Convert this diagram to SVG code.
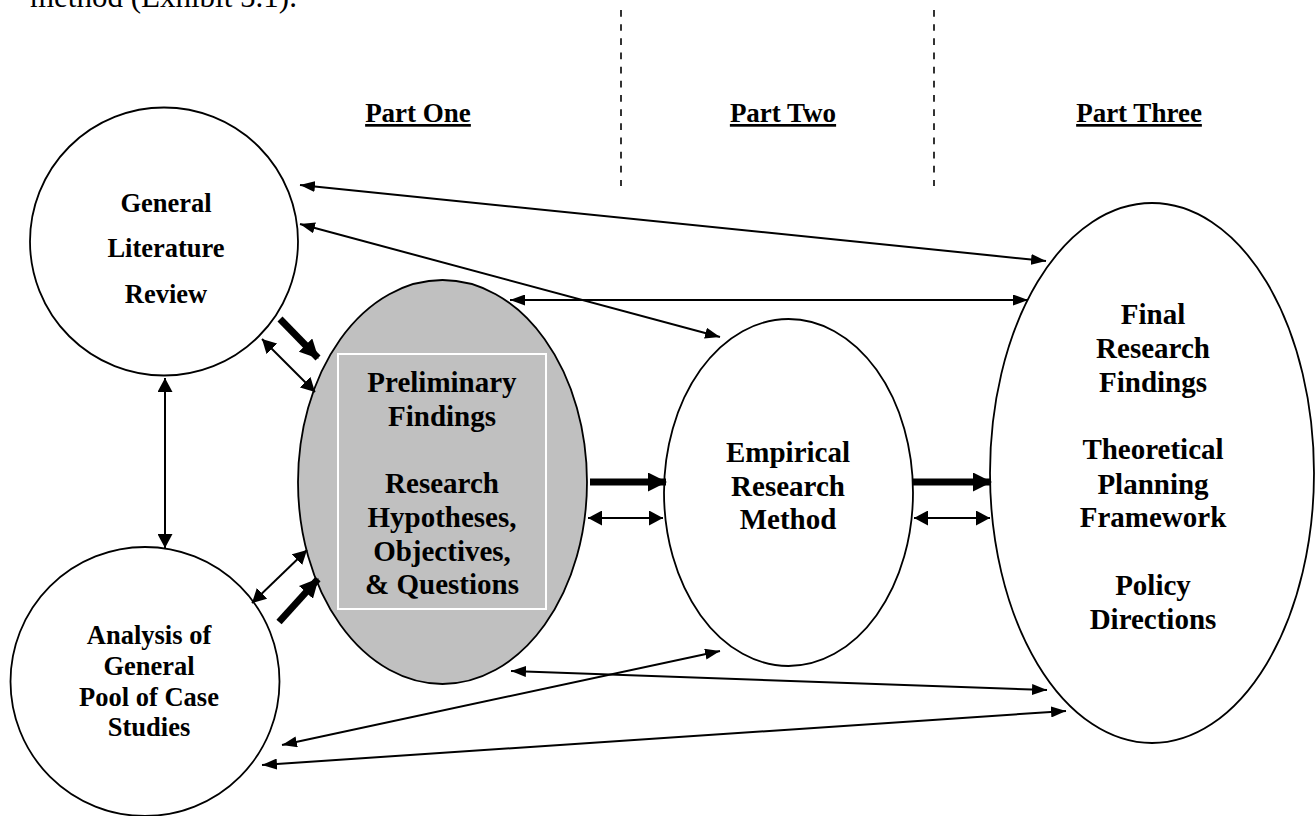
<svg xmlns="http://www.w3.org/2000/svg" width="1315" height="816" viewBox="0 0 1315 816">
  <style>
    .node { fill: #ffffff; stroke: #000000; stroke-width: 1.8; }
    .shaded { fill: #c0c0c0; stroke: #000000; stroke-width: 1.8; }
    .lbl { font-family: "Liberation Serif", "Times New Roman", serif; font-weight: bold; fill: #000000; text-anchor: middle; }
    .body { font-family: "Liberation Serif", "Times New Roman", serif; font-size: 31px; fill: #000000; }
    .part { font-family: "Liberation Serif", "Times New Roman", serif; font-weight: bold; font-size: 27px; fill: #000000; text-anchor: middle; text-decoration: underline; }
    .divider { stroke: #000000; stroke-width: 1.6; stroke-dasharray: 6.7 7.47; fill: none; }
    .thin { stroke: #000000; stroke-width: 2; fill: none; marker-start: url(#headLong); marker-end: url(#headLong); }
    .short { stroke: #000000; stroke-width: 2; fill: none; marker-start: url(#headShort); marker-end: url(#headShort); }
    .thick { stroke: #000000; stroke-width: 7; fill: none; marker-end: url(#headThick); }
  </style>
  <defs>
    <marker id="headLong" markerUnits="userSpaceOnUse" markerWidth="15" markerHeight="11" refX="15" refY="5.5" orient="auto-start-reverse">
      <path d="M0,0 L15,5.5 L0,11 z" fill="#000000"/>
    </marker>
    <marker id="headShort" markerUnits="userSpaceOnUse" markerWidth="14" markerHeight="15" refX="14" refY="7.5" orient="auto-start-reverse">
      <path d="M0,0 L14,7.5 L0,15 z" fill="#000000"/>
    </marker>
    <marker id="headThick" markerUnits="userSpaceOnUse" markerWidth="19" markerHeight="19" refX="18" refY="9.5" orient="auto">
      <path d="M0,0 L19,9.5 L0,19 z" fill="#000000"/>
    </marker>
  </defs>

  <rect x="0" y="0" width="1315" height="816" fill="#ffffff"/>

  <!-- running text line above the figure -->
  <text class="body" x="30" y="7">method (Exhibit 5.1).</text>

  <!-- section dividers and headings -->
  <g id="sections">
    <line class="divider" x1="621" y1="10" x2="621" y2="186"/>
    <line class="divider" x1="934" y1="10" x2="934" y2="186"/>
    <text class="part" x="418" y="122">Part One</text>
    <text class="part" x="783" y="122">Part Two</text>
    <text class="part" x="1139" y="122">Part Three</text>
  </g>

  <g id="node-literature">
    <circle class="node" cx="164" cy="241.5" r="134"/>
    <text class="lbl" font-size="26.5" x="166" y="212">General</text>
    <text class="lbl" font-size="26.5" x="166" y="257">Literature</text>
    <text class="lbl" font-size="26.5" x="166" y="303">Review</text>
  </g>

  <g id="node-case-studies">
    <circle class="node" cx="145" cy="681.5" r="134.5"/>
    <text class="lbl" font-size="26.5" x="149" y="644">Analysis of</text>
    <text class="lbl" font-size="26.5" x="149" y="675">General</text>
    <text class="lbl" font-size="26.5" x="149" y="706">Pool of Case</text>
    <text class="lbl" font-size="26.5" x="149" y="736">Studies</text>
  </g>

  <g id="node-preliminary">
    <ellipse class="shaded" cx="442.5" cy="482" rx="144.5" ry="202"/>
    <rect x="338" y="354" width="208" height="255" fill="none" stroke="#ffffff" stroke-width="2"/>
    <text class="lbl" font-size="29" x="442" y="392">Preliminary</text>
    <text class="lbl" font-size="29" x="442" y="426">Findings</text>
    <text class="lbl" font-size="29" x="442" y="493">Research</text>
    <text class="lbl" font-size="29" x="442" y="527">Hypotheses,</text>
    <text class="lbl" font-size="29" x="442" y="561">Objectives,</text>
    <text class="lbl" font-size="29" x="442" y="594">&amp; Questions</text>
  </g>

  <g id="node-empirical">
    <ellipse class="node" cx="788.5" cy="492.5" rx="124.5" ry="173.5"/>
    <text class="lbl" font-size="29" x="788" y="462">Empirical</text>
    <text class="lbl" font-size="29" x="788" y="496">Research</text>
    <text class="lbl" font-size="29" x="788" y="529">Method</text>
  </g>

  <g id="node-final">
    <ellipse class="node" cx="1152" cy="473" rx="162" ry="270"/>
    <text class="lbl" font-size="29" x="1153" y="324">Final</text>
    <text class="lbl" font-size="29" x="1153" y="358">Research</text>
    <text class="lbl" font-size="29" x="1153" y="392">Findings</text>
    <text class="lbl" font-size="29" x="1153" y="459">Theoretical</text>
    <text class="lbl" font-size="29" x="1153" y="494">Planning</text>
    <text class="lbl" font-size="29" x="1153" y="527">Framework</text>
    <text class="lbl" font-size="29" x="1153" y="595">Policy</text>
    <text class="lbl" font-size="29" x="1153" y="629">Directions</text>
  </g>

  <g id="connectors">
    <!-- two-way links -->
    <line class="thin" x1="300" y1="185" x2="1046" y2="261"/>
    <line class="thin" x1="300" y1="224" x2="720" y2="337"/>
    <line class="thin" x1="510" y1="300" x2="1028" y2="300"/>
    <line class="thin" x1="511" y1="671" x2="1047" y2="690"/>
    <line class="thin" x1="282" y1="745" x2="720" y2="651"/>
    <line class="thin" x1="262" y1="765" x2="1066" y2="711"/>
    <line class="short" x1="165" y1="378" x2="165" y2="548"/>
    <line class="short" x1="262" y1="339" x2="315" y2="392"/>
    <line class="short" x1="252" y1="603" x2="307" y2="550"/>
    <line class="short" x1="588" y1="518" x2="663" y2="518"/>
    <line class="short" x1="914" y1="518" x2="990" y2="518"/>
    <!-- main flow -->
    <line class="thick" x1="280" y1="319" x2="318" y2="358"/>
    <line class="thick" x1="279" y1="622" x2="318" y2="579"/>
    <line class="thick" x1="590" y1="482" x2="666" y2="482"/>
    <line class="thick" x1="913" y1="482" x2="991" y2="482"/>
  </g>
</svg>
